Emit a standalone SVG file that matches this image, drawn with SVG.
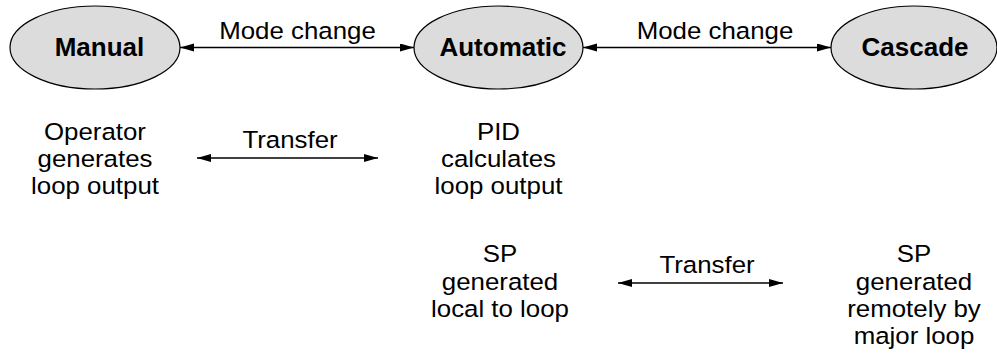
<svg xmlns="http://www.w3.org/2000/svg" width="997" height="357" viewBox="0 0 997 357">
<style>
.node ellipse{fill:#dcdcdc;stroke:#000;stroke-width:1.2}
.bold{font-family:"Liberation Sans",Arial,sans-serif;font-weight:bold;font-size:26px;fill:#000;text-anchor:middle}
.t{font-family:"Liberation Sans",Arial,sans-serif;font-size:23.5px;fill:#000;text-anchor:middle}
.conn line{stroke:#000;stroke-width:1.5;fill:none;marker-start:url(#ah);marker-end:url(#ah)}
</style>
<defs>
<marker id="ah" markerUnits="userSpaceOnUse" markerWidth="15" markerHeight="9" refX="14" refY="4" orient="auto-start-reverse">
<path d="M0,0 L14,4 L0,8 Z" fill="#000"/>
</marker>
</defs>
<g id="manual" class="node">
<ellipse cx="95" cy="47.5" rx="85" ry="41.5"/>
<text class="bold" x="99.5" y="56">Manual</text>
</g>
<g id="automatic" class="node">
<ellipse cx="498.5" cy="47.5" rx="84.5" ry="41.5"/>
<text class="bold" x="503" y="56">Automatic</text>
</g>
<g id="cascade" class="node">
<ellipse cx="914" cy="47.5" rx="83" ry="41.5"/>
<text class="bold" x="915" y="56">Cascade</text>
</g>
<g id="connectors" class="conn">
<line x1="180" y1="47.5" x2="414" y2="47.5"/>
<line x1="583" y1="47.5" x2="831" y2="47.5"/>
<line x1="197" y1="158" x2="378" y2="158"/>
<line x1="618" y1="283" x2="783" y2="283"/>
</g>
<g id="labels">
<text class="t" transform="translate(297.5,39) scale(1.1,1)">Mode change</text>
<text class="t" transform="translate(715,39) scale(1.1,1)">Mode change</text>
<text class="t" transform="translate(290,148) scale(1.1,1)">Transfer</text>
<text class="t" transform="translate(707,273) scale(1.1,1)">Transfer</text>
</g>
<g id="manual-desc">
<text class="t" transform="translate(95,139.5) scale(1.1,1)">Operator</text>
<text class="t" transform="translate(95,166.5) scale(1.1,1)">generates</text>
<text class="t" transform="translate(95,193.5) scale(1.1,1)">loop output</text>
</g>
<g id="auto-desc">
<text class="t" transform="translate(498.5,139.5) scale(1.1,1)">PID</text>
<text class="t" transform="translate(498.5,166.5) scale(1.1,1)">calculates</text>
<text class="t" transform="translate(498.5,193.5) scale(1.1,1)">loop output</text>
</g>
<g id="local-sp">
<text class="t" transform="translate(500,262) scale(1.1,1)">SP</text>
<text class="t" transform="translate(500,289.5) scale(1.1,1)">generated</text>
<text class="t" transform="translate(500,317) scale(1.1,1)">local to loop</text>
</g>
<g id="remote-sp">
<text class="t" transform="translate(914,262) scale(1.1,1)">SP</text>
<text class="t" transform="translate(914,289.5) scale(1.1,1)">generated</text>
<text class="t" transform="translate(914,317) scale(1.1,1)">remotely by</text>
<text class="t" transform="translate(914,344) scale(1.1,1)">major loop</text>
</g>
</svg>
